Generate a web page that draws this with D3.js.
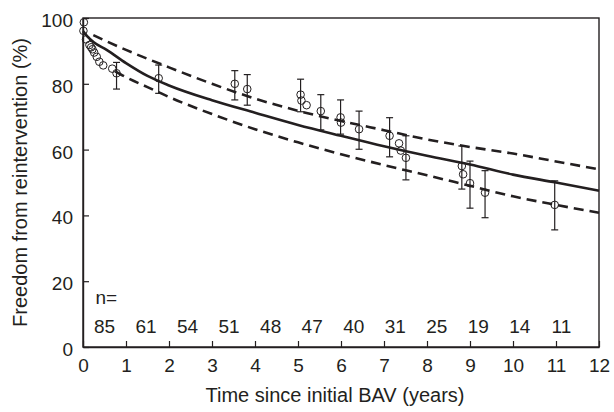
<!DOCTYPE html>
<html>
<head>
<meta charset="utf-8">
<script src="https://cdn.jsdelivr.net/npm/d3@7"></script>
<style>
  body { margin: 0; background: #fff; }
  text { font-family: "Liberation Sans", Arial, sans-serif; fill: #231f20; }
</style>
</head>
<body>
<svg width="614" height="412"></svg>
<script>
// Kaplan-Meier points
var kmTime = [0.02, 0.01, 0.07, 0.15, 0.19, 0.22, 0.26, 0.32, 0.38, 0.47, 0.68, 0.78, 1.76, 3.53, 3.82,
  5.06, 5.08, 5.2, 5.53, 5.99, 6.0, 6.42, 7.13, 7.35, 7.39, 7.51, 8.81, 8.84, 9.0, 9.35, 10.97];
var kmFree = [98.7, 96.1, 93.5, 91.8, 91.1, 90.5, 89.5, 88.2, 86.7, 85.6, 84.6, 83.2, 81.7, 80.0, 78.4,
  76.7, 74.9, 73.5, 71.7, 69.8, 68.2, 66.2, 64.2, 61.9, 59.7, 57.5, 55.0, 52.5, 49.8, 46.9, 43.2];

// error bars
var errTime = [0.78, 1.76, 3.53, 3.82, 5.06, 5.53, 5.99, 6.42, 7.13, 7.51, 8.81, 9.0, 9.35, 10.97];
var errLow = [78.4, 77.1, 75.1, 73.5, 71.5, 66.0, 64.7, 60.1, 57.8, 50.8, 48.0, 42.2, 39.3, 35.6];
var errHigh = [86.5, 85.7, 84.0, 82.8, 81.4, 76.7, 75.1, 71.7, 69.7, 64.2, 61.1, 56.5, 53.6, 50.5];

// parametric fit and confidence limits
var fitTime = [0, 0.1, 0.25, 0.55, 1, 1.5, 2, 3, 4, 5, 6, 7, 8, 9, 10, 11, 12];
var fitFree = [96.0, 94.4, 92.6, 90.3, 86.3, 82.4, 79.5, 75.0, 71.2, 67.5, 64.2, 61.0, 58.1, 55.5, 52.4, 50.0, 47.5];
var upperTime = [0.24, 0.5, 1, 1.5, 2, 3, 4, 5, 6, 7, 8, 9, 10, 11, 12];
var upperFree = [94.8, 93.2, 90.3, 87.6, 85.0, 80.0, 75.5, 71.8, 68.7, 65.9, 63.1, 60.8, 58.8, 56.4, 54.0];
var lowerTime = [0.75, 1, 1.5, 2, 3, 4, 5, 6, 7, 8, 9, 10, 11, 12];
var lowerFree = [83.8, 82.0, 79.0, 76.0, 70.8, 66.2, 62.2, 58.6, 55.3, 52.2, 49.0, 45.8, 43.2, 40.8];

// numbers at risk
var atRisk = [85, 61, 54, 51, 48, 47, 40, 31, 25, 19, 14, 11];

var xTicks = d3.range(0, 13);
var yTicks = [0, 20, 40, 60, 80, 100];

var svg = d3.select("svg");
const width = +svg.attr("width");
const height = +svg.attr("height");
var margin = { top: 18, right: 15, bottom: 65, left: 83 };
var iw = width - margin.left - margin.right;
var ih = height - margin.top - margin.bottom;

var ink = "#231f20";

var g = svg.append("g")
  .attr("transform", "translate(" + margin.left + "," + margin.top + ")");

var x = d3.scaleLinear().domain([0, 12]).range([0, iw]);
var y = d3.scaleLinear().domain([0, 100]).range([ih, 0]);

// frame
g.append("rect")
  .attr("width", iw).attr("height", ih)
  .attr("fill", "none").attr("stroke", ink).attr("stroke-width", 1.4);

var xAxis = g.append("g")
  .attr("transform", "translate(0," + ih + ")")
  .call(d3.axisBottom(x).tickValues(xTicks).tickSizeInner(-6).tickSizeOuter(0).tickPadding(12));
var yAxis = g.append("g")
  .call(d3.axisLeft(y).tickValues(yTicks).tickSizeInner(-6).tickSizeOuter(0).tickPadding(10));

[xAxis, yAxis].forEach(a => {
  a.select(".domain").attr("stroke", ink).attr("stroke-width", 1.4);
  a.selectAll(".tick line").attr("stroke", ink).attr("stroke-width", 1.2);
  a.selectAll(".tick text")
    .attr("fill", ink)
    .style("font-size", "19px")
    .style("font-family", "'Liberation Sans', Arial, sans-serif");
});
yAxis.selectAll(".tick text").attr("dy", "0.45em");

// curves
function pts(t, v) { return t.map((d, i) => [d, v[i]]); }
var line = d3.line()
  .x(d => x(d[0]))
  .y(d => y(d[1]))
  .curve(d3.curveMonotoneX);

g.append("path")
  .attr("d", line(pts(fitTime, fitFree)))
  .attr("fill", "none").attr("stroke", ink).attr("stroke-width", 2.6);

[[upperTime, upperFree], [lowerTime, lowerFree]].forEach(c => {
  g.append("path")
    .attr("d", line(pts(c[0], c[1])))
    .attr("fill", "none").attr("stroke", ink).attr("stroke-width", 2.6)
    .attr("stroke-dasharray", "10,6");
});

// error bars
var bars = g.selectAll(".err").data(errTime.map((t, i) => ({ t: t, lo: errLow[i], hi: errHigh[i] })))
  .enter().append("g").attr("class", "err")
  .attr("stroke", ink).attr("stroke-width", 1.2);
bars.append("line")
  .attr("x1", d => x(d.t)).attr("x2", d => x(d.t))
  .attr("y1", d => y(d.lo)).attr("y2", d => y(d.hi));
bars.append("line")
  .attr("x1", d => x(d.t) - 3.5).attr("x2", d => x(d.t) + 3.5)
  .attr("y1", d => y(d.lo)).attr("y2", d => y(d.lo));
bars.append("line")
  .attr("x1", d => x(d.t) - 3.5).attr("x2", d => x(d.t) + 3.5)
  .attr("y1", d => y(d.hi)).attr("y2", d => y(d.hi));

// KM circles
g.selectAll(".km").data(pts(kmTime, kmFree))
  .enter().append("circle").attr("class", "km")
  .attr("cx", d => x(d[0])).attr("cy", d => y(d[1]))
  .attr("r", 3.8)
  .attr("fill", "none").attr("stroke", ink).attr("stroke-width", 1);

// numbers at risk
g.append("text")
  .attr("x", x(0.29)).attr("y", y(13))
  .style("font-size", "19px")
  .text("n=");
g.selectAll(".risk").data(atRisk)
  .enter().append("text").attr("class", "risk")
  .attr("x", (d, i) => x(0.5 + i * 0.966))
  .attr("y", y(4.2))
  .attr("text-anchor", "middle")
  .style("font-size", "19px")
  .text(d => d);

// axis titles
svg.append("text")
  .attr("x", margin.left + iw / 2 - 6)
  .attr("y", 402)
  .attr("text-anchor", "middle")
  .style("font-size", "20px")
  .text("Time since initial BAV (years)");
svg.append("text")
  .attr("transform", "translate(27," + (margin.top + ih / 2) + ") rotate(-90)")
  .attr("text-anchor", "middle")
  .style("font-size", "20px")
  .text("Freedom from reintervention (%)");
</script>
</body>
</html>
